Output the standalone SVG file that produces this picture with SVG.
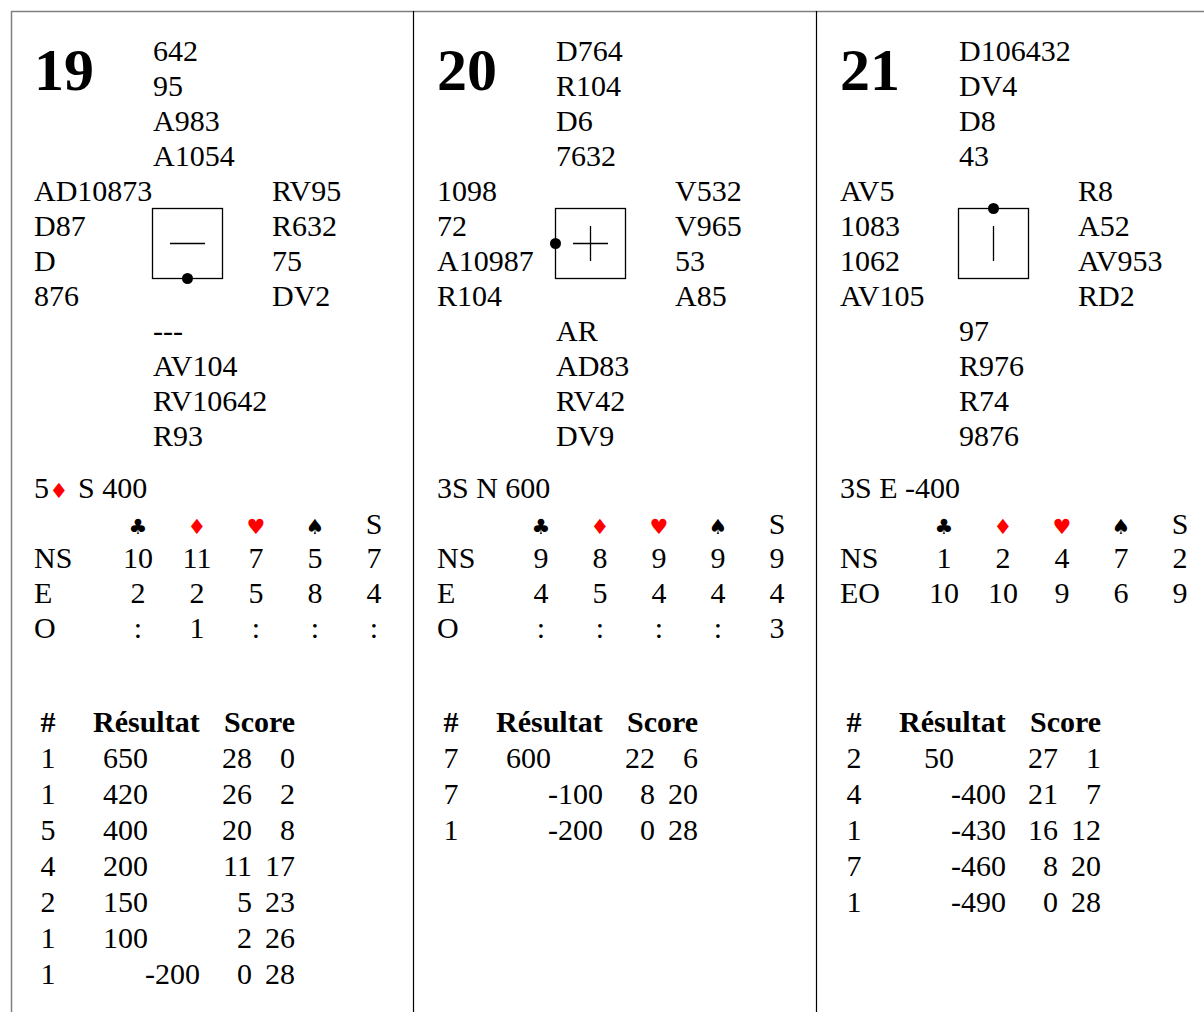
<svg xmlns="http://www.w3.org/2000/svg" width="1204" height="1012" viewBox="0 0 1204 1012">
<style>
text{font-family:"Liberation Serif","Times New Roman",serif;font-size:30px;fill:#000}
.num{font-weight:bold;font-size:60px}
.b{font-weight:bold}
.m{text-anchor:middle}
.r{text-anchor:end}
.suit{font-family:"DejaVu Sans",sans-serif;font-size:21px;text-anchor:middle}
.red{fill:#ff0000}
.box{fill:none;stroke:#000;stroke-width:1.3}
.ln{stroke:#000;stroke-width:1.3}
.frame{stroke:#808080;stroke-width:1.5}
.div{stroke:#000;stroke-width:1.2}
</style>
<rect width="1204" height="1012" fill="#fff"/>
<g id="frame">
<line class="frame" x1="11" y1="11.5" x2="1204" y2="11.5"/>
<line class="frame" x1="11.5" y1="11" x2="11.5" y2="1012"/>
<line class="div" x1="413.5" y1="11" x2="413.5" y2="1012"/>
<line class="div" x1="816.5" y1="11" x2="816.5" y2="1012"/>
</g>

<g id="board19">
<text class="num" x="34" y="90">19</text>
<text x="153" y="61">642</text>
<text x="153" y="96">95</text>
<text x="153" y="131">A983</text>
<text x="153" y="166">A1054</text>
<text x="34" y="201">AD10873</text>
<text x="34" y="236">D87</text>
<text x="34" y="271">D</text>
<text x="34" y="306">876</text>
<text x="272" y="201">RV95</text>
<text x="272" y="236">R632</text>
<text x="272" y="271">75</text>
<text x="272" y="306">DV2</text>
<text x="153" y="341">---</text>
<text x="153" y="376">AV104</text>
<text x="153" y="411">RV10642</text>
<text x="153" y="446">R93</text>
<rect class="box" x="152.5" y="208.5" width="70" height="70"/>
<line class="ln" x1="170" y1="243.5" x2="205" y2="243.5"/>
<circle cx="187.5" cy="278.5" r="5.5"/>
<text x="34" y="498">5</text>
<text class="suit red" x="59" y="498">♦</text>
<text x="78" y="498">S 400</text>
<text class="suit" x="138" y="534">♣</text>
<text class="suit red" x="197" y="534">♦</text>
<text class="suit red" x="256" y="534">♥</text>
<text class="suit" x="315" y="534">♠</text>
<text class="m" x="374" y="534">S</text>
<text x="34" y="568">NS</text>
<text class="m" x="138" y="568">10</text><text class="m" x="197" y="568">11</text><text class="m" x="256" y="568">7</text><text class="m" x="315" y="568">5</text><text class="m" x="374" y="568">7</text>
<text x="34" y="603">E</text>
<text class="m" x="138" y="603">2</text><text class="m" x="197" y="603">2</text><text class="m" x="256" y="603">5</text><text class="m" x="315" y="603">8</text><text class="m" x="374" y="603">4</text>
<text x="34" y="638">O</text>
<text class="m" x="138" y="638">:</text><text class="m" x="197" y="638">1</text><text class="m" x="256" y="638">:</text><text class="m" x="315" y="638">:</text><text class="m" x="374" y="638">:</text>
<text class="b m" x="48" y="732">#</text>
<text class="b" x="93" y="732">Résultat</text>
<text class="b" x="224" y="732">Score</text>
<text class="m" x="48" y="768">1</text><text class="r" x="148" y="768">650</text><text class="r" x="252" y="768">28</text><text class="r" x="295" y="768">0</text>
<text class="m" x="48" y="804">1</text><text class="r" x="148" y="804">420</text><text class="r" x="252" y="804">26</text><text class="r" x="295" y="804">2</text>
<text class="m" x="48" y="840">5</text><text class="r" x="148" y="840">400</text><text class="r" x="252" y="840">20</text><text class="r" x="295" y="840">8</text>
<text class="m" x="48" y="876">4</text><text class="r" x="148" y="876">200</text><text class="r" x="252" y="876">11</text><text class="r" x="295" y="876">17</text>
<text class="m" x="48" y="912">2</text><text class="r" x="148" y="912">150</text><text class="r" x="252" y="912">5</text><text class="r" x="295" y="912">23</text>
<text class="m" x="48" y="948">1</text><text class="r" x="148" y="948">100</text><text class="r" x="252" y="948">2</text><text class="r" x="295" y="948">26</text>
<text class="m" x="48" y="984">1</text><text class="r" x="200" y="984">-200</text><text class="r" x="252" y="984">0</text><text class="r" x="295" y="984">28</text>
</g>

<g id="board20" transform="translate(403,0)">
<text class="num" x="34" y="90">20</text>
<text x="153" y="61">D764</text>
<text x="153" y="96">R104</text>
<text x="153" y="131">D6</text>
<text x="153" y="166">7632</text>
<text x="34" y="201">1098</text>
<text x="34" y="236">72</text>
<text x="34" y="271">A10987</text>
<text x="34" y="306">R104</text>
<text x="272" y="201">V532</text>
<text x="272" y="236">V965</text>
<text x="272" y="271">53</text>
<text x="272" y="306">A85</text>
<text x="153" y="341">AR</text>
<text x="153" y="376">AD83</text>
<text x="153" y="411">RV42</text>
<text x="153" y="446">DV9</text>
<rect class="box" x="152.5" y="208.5" width="70" height="70"/>
<line class="ln" x1="170" y1="243.5" x2="205" y2="243.5"/>
<line class="ln" x1="187.5" y1="226" x2="187.5" y2="261"/>
<circle cx="152.5" cy="243.5" r="5.5"/>
<text x="34" y="498">3S N 600</text>
<text class="suit" x="138" y="534">♣</text>
<text class="suit red" x="197" y="534">♦</text>
<text class="suit red" x="256" y="534">♥</text>
<text class="suit" x="315" y="534">♠</text>
<text class="m" x="374" y="534">S</text>
<text x="34" y="568">NS</text>
<text class="m" x="138" y="568">9</text><text class="m" x="197" y="568">8</text><text class="m" x="256" y="568">9</text><text class="m" x="315" y="568">9</text><text class="m" x="374" y="568">9</text>
<text x="34" y="603">E</text>
<text class="m" x="138" y="603">4</text><text class="m" x="197" y="603">5</text><text class="m" x="256" y="603">4</text><text class="m" x="315" y="603">4</text><text class="m" x="374" y="603">4</text>
<text x="34" y="638">O</text>
<text class="m" x="138" y="638">:</text><text class="m" x="197" y="638">:</text><text class="m" x="256" y="638">:</text><text class="m" x="315" y="638">:</text><text class="m" x="374" y="638">3</text>
<text class="b m" x="48" y="732">#</text>
<text class="b" x="93" y="732">Résultat</text>
<text class="b" x="224" y="732">Score</text>
<text class="m" x="48" y="768">7</text><text class="r" x="148" y="768">600</text><text class="r" x="252" y="768">22</text><text class="r" x="295" y="768">6</text>
<text class="m" x="48" y="804">7</text><text class="r" x="200" y="804">-100</text><text class="r" x="252" y="804">8</text><text class="r" x="295" y="804">20</text>
<text class="m" x="48" y="840">1</text><text class="r" x="200" y="840">-200</text><text class="r" x="252" y="840">0</text><text class="r" x="295" y="840">28</text>
</g>

<g id="board21" transform="translate(806,0)">
<text class="num" x="34" y="90">21</text>
<text x="153" y="61">D106432</text>
<text x="153" y="96">DV4</text>
<text x="153" y="131">D8</text>
<text x="153" y="166">43</text>
<text x="34" y="201">AV5</text>
<text x="34" y="236">1083</text>
<text x="34" y="271">1062</text>
<text x="34" y="306">AV105</text>
<text x="272" y="201">R8</text>
<text x="272" y="236">A52</text>
<text x="272" y="271">AV953</text>
<text x="272" y="306">RD2</text>
<text x="153" y="341">97</text>
<text x="153" y="376">R976</text>
<text x="153" y="411">R74</text>
<text x="153" y="446">9876</text>
<rect class="box" x="152.5" y="208.5" width="70" height="70"/>
<line class="ln" x1="187.5" y1="226" x2="187.5" y2="261"/>
<circle cx="187.5" cy="208.5" r="5.5"/>
<text x="34" y="498">3S E -400</text>
<text class="suit" x="138" y="534">♣</text>
<text class="suit red" x="197" y="534">♦</text>
<text class="suit red" x="256" y="534">♥</text>
<text class="suit" x="315" y="534">♠</text>
<text class="m" x="374" y="534">S</text>
<text x="34" y="568">NS</text>
<text class="m" x="138" y="568">1</text><text class="m" x="197" y="568">2</text><text class="m" x="256" y="568">4</text><text class="m" x="315" y="568">7</text><text class="m" x="374" y="568">2</text>
<text x="34" y="603">EO</text>
<text class="m" x="138" y="603">10</text><text class="m" x="197" y="603">10</text><text class="m" x="256" y="603">9</text><text class="m" x="315" y="603">6</text><text class="m" x="374" y="603">9</text>
<text class="b m" x="48" y="732">#</text>
<text class="b" x="93" y="732">Résultat</text>
<text class="b" x="224" y="732">Score</text>
<text class="m" x="48" y="768">2</text><text class="r" x="148" y="768">50</text><text class="r" x="252" y="768">27</text><text class="r" x="295" y="768">1</text>
<text class="m" x="48" y="804">4</text><text class="r" x="200" y="804">-400</text><text class="r" x="252" y="804">21</text><text class="r" x="295" y="804">7</text>
<text class="m" x="48" y="840">1</text><text class="r" x="200" y="840">-430</text><text class="r" x="252" y="840">16</text><text class="r" x="295" y="840">12</text>
<text class="m" x="48" y="876">7</text><text class="r" x="200" y="876">-460</text><text class="r" x="252" y="876">8</text><text class="r" x="295" y="876">20</text>
<text class="m" x="48" y="912">1</text><text class="r" x="200" y="912">-490</text><text class="r" x="252" y="912">0</text><text class="r" x="295" y="912">28</text>
</g>
</svg>
